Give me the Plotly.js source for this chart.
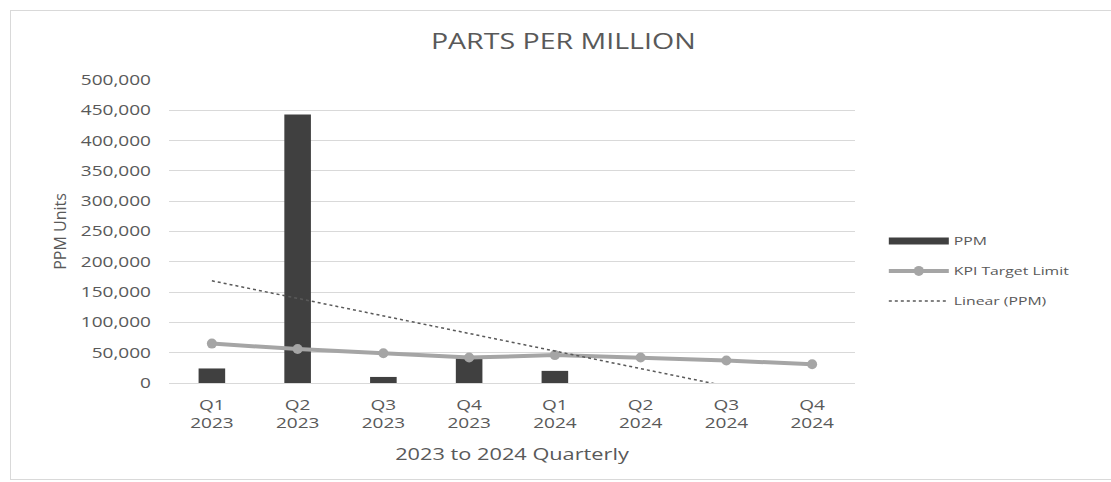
<!DOCTYPE html>
<html>
<head>
<meta charset="utf-8">
<script src="https://cdn.plot.ly/plotly-3.0.1.min.js"></script>
<style>
  html, body { margin: 0; padding: 0; background: #ffffff; }
  #wrap { position: relative; width: 1111px; height: 482px; overflow: hidden; }
  #chart { width: 1111px; height: 482px; }
  #frame {
    position: absolute; left: 10px; top: 10px; width: 1120px; height: 470px;
    border: 1px solid #d9d9d9; box-sizing: border-box; pointer-events: none;
  }
</style>
</head>
<body>
<div id="wrap">
  <div id="chart"></div>
  <div id="frame"></div>
</div>
<script>
// Quarterly categories (two-line tick labels)
const quarters = ['Q1<br>2023', 'Q2<br>2023', 'Q3<br>2023', 'Q4<br>2023',
                  'Q1<br>2024', 'Q2<br>2024', 'Q3<br>2024', 'Q4<br>2024'];

// Measured parts per million per quarter
const ppm = [24000, 443000, 10000, 41000, 20000, 0, 0, 0];

// KPI target limit per quarter
const kpiTarget = [65000, 56000, 49000, 42000, 46000, 42000, 37000, 31000];

// Least-squares linear trend over the PPM series
function linearTrend(values) {
  const n = values.length;
  const xs = values.map((_, i) => i + 1);
  const mx = xs.reduce((a, b) => a + b, 0) / n;
  const my = values.reduce((a, b) => a + b, 0) / n;
  let sxy = 0, sxx = 0;
  for (let i = 0; i < n; i++) {
    sxy += (xs[i] - mx) * (values[i] - my);
    sxx += (xs[i] - mx) * (xs[i] - mx);
  }
  const slope = sxy / sxx;
  return xs.map(x => my + slope * (x - mx));
}
const ppmTrend = linearTrend(ppm);

const FONT = 'Open Sans, Segoe UI, DejaVu Sans, sans-serif';
const TEXT = '#595959';

const traces = [
  {
    type: 'bar', x: quarters, y: ppm, name: 'PPM',
    marker: { color: '#404040' }, showlegend: false, legendgroup: 'ppm'
  },
  {
    // legend key for the bars, drawn as a wide band
    type: 'scatter', mode: 'lines', x: [null], y: [null], name: 'PPM',
    line: { color: '#404040', width: 7 }, legendgroup: 'ppm'
  },
  {
    type: 'scatter', mode: 'lines+markers', x: quarters, y: kpiTarget,
    name: 'KPI Target Limit', legendgroup: 'kpi',
    line: { color: '#a5a5a5', width: 4 },
    marker: { color: '#a5a5a5', size: 10 }
  },
  {
    type: 'scatter', mode: 'lines', x: quarters, y: ppmTrend,
    name: 'Linear (PPM)', legendgroup: 'trend',
    line: { color: '#595959', width: 1.5, dash: 'dot' }
  }
];

const layout = {
  width: 1111, height: 482,
  margin: { l: 169, r: 256, t: 80, b: 99 },
  paper_bgcolor: '#ffffff', plot_bgcolor: '#ffffff',
  font: { family: FONT, color: TEXT, size: 12 },
  title: {
    text: 'PARTS PER MILLION',
    font: { family: FONT, size: 21, color: TEXT },
    x: 0.507, xanchor: 'center', y: 0.913, yanchor: 'middle'
  },
  bargap: 0.69,
  xaxis: {
    type: 'category',
    showgrid: false, zeroline: false,
    showline: true, linecolor: '#d9d9d9', linewidth: 1,
    ticks: '', ticklabelstandoff: 9,
    tickfont: { family: FONT, size: 14, color: TEXT },
    title: { text: '2023 to 2024 Quarterly', font: { family: FONT, size: 16, color: TEXT }, standoff: 17 }
  },
  yaxis: {
    range: [0, 500000], dtick: 50000, tickformat: ',',
    showgrid: true, gridcolor: '#d9d9d9', gridwidth: 1,
    zeroline: false, showline: false, ticks: '',
    ticklabelstandoff: 17,
    tickfont: { family: FONT, size: 14, color: TEXT },
    title: { text: 'PPM Units', font: { family: FONT, size: 16, color: TEXT }, standoff: 28 }
  },
  legend: {
    x: 1.042, xanchor: 'left', y: 0.37, yanchor: 'middle',
    font: { family: FONT, size: 11.6, color: TEXT },
    itemwidth: 60, tracegroupgap: 11, traceorder: 'grouped',
    bgcolor: 'rgba(0,0,0,0)'
  },
  showlegend: true
};

// Horizontal text widening: each label is stretched about its own anchor point.
const TEXT_STRETCH = 1.36;
function widenText(gd) {
  gd.querySelectorAll('svg text').forEach(t => {
    const cls = t.getAttribute('class') || '';
    if (cls.indexOf('ytitle') !== -1) return;
    const x = parseFloat(t.getAttribute('x')) || 0;
    const y = parseFloat(t.getAttribute('y')) || 0;
    const tr = t.getAttribute('transform') || '';
    t.setAttribute('transform',
      `${tr} translate(${x},${y}) scale(${TEXT_STRETCH},1) translate(${-x},${-y})`);
  });
  // the widened legend labels run past the legend's own clip box
  gd.querySelectorAll('.legend [clip-path], .legend .scrollbox').forEach(el => {
    el.removeAttribute('clip-path');
  });
}

Plotly.newPlot('chart', traces, layout, { staticPlot: true, displayModeBar: false })
  .then(gd => widenText(gd));
</script>
</body>
</html>
